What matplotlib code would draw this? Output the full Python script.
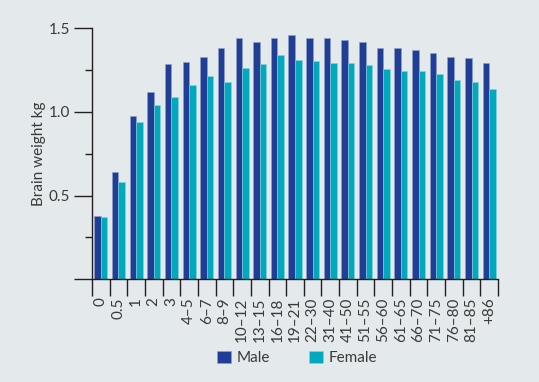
import matplotlib
matplotlib.use("Agg")
import matplotlib.pyplot as plt
import numpy as np
from matplotlib.patches import Patch

categories = ["0", "0.5", "1", "2", "3", "4–5", "6–7", "8–9", "10–12", "13–15",
              "16–18", "19–21", "22–30", "31–40", "41–50", "51–55", "56–60",
              "61–65", "66–70", "71–75", "76–80", "81–85", "+86"]
male = [0.38, 0.64, 0.975, 1.12, 1.285, 1.30, 1.33, 1.38, 1.44, 1.42,
        1.44, 1.46, 1.44, 1.44, 1.43, 1.42, 1.38, 1.38, 1.37, 1.35, 1.33, 1.32, 1.29]
female = [0.37, 0.58, 0.94, 1.04, 1.09, 1.16, 1.215, 1.18, 1.26, 1.285,
          1.34, 1.31, 1.305, 1.29, 1.29, 1.28, 1.255, 1.245, 1.245, 1.225, 1.19, 1.18, 1.14]
y_ticks = [0.5, 1.0, 1.5]
y_tick_labels = ["0.5", "1.0", "1.5"]

bg = "#e4e9ec"
c_male = "#213e97"
c_female = "#00a9bc"
ink = "#231f20"
txt = "#3a3a3a"

plt.rcParams['font.family'] = ['Lato', 'DejaVu Sans']

fig = plt.figure(figsize=(5.39, 3.82), dpi=100, facecolor=bg)
ax = fig.add_axes([92/539, 1-279.3/382, (498-92)/539, (279.3-28.3)/382])
ax.set_facecolor(bg)

x = np.arange(len(categories)) + 0.5
w = 0.37
ax.bar(x - w/2, male, width=w, color=c_male, edgecolor="#8fa0c8", linewidth=0.4)
ax.bar(x + w/2, female, width=w, color=c_female, edgecolor="#8fd3dc", linewidth=0.4)

ax.set_xlim(0, len(categories))
ax.set_ylim(0, 1.5)

for s in ["top", "right"]:
    ax.spines[s].set_visible(False)
for s in ["left", "bottom"]:
    ax.spines[s].set_color(ink)
    ax.spines[s].set_linewidth(1.0)

ax.set_yticks([0] + y_ticks)
ax.set_yticklabels([""] + y_tick_labels)
ax.set_yticks([0.25, 0.75, 1.25], minor=True)
ax.tick_params(axis="y", which="major", length=13, width=1.0, color=ink,
               labelsize=11, labelcolor=txt, pad=3)
ax.tick_params(axis="y", which="minor", length=5, width=1.0, color=ink)

ax.set_xticks(np.arange(len(categories) + 1))
ax.set_xticklabels([""] * (len(categories) + 1))
ax.tick_params(axis="x", which="major", length=12, width=1.0, color=ink)
for xi, lab in zip(x, categories):
    ax.annotate(lab, xy=(xi, 0), xycoords="data", xytext=(0, -13),
                textcoords="offset points", rotation=90, ha="center", va="top",
                fontsize=11, color=txt)

ax.set_ylabel("Brain weight kg", fontsize=11, color=txt, labelpad=2)

handles = [Patch(facecolor=c_male, edgecolor="#8fa0c8", linewidth=0.4),
           Patch(facecolor=c_female, edgecolor="#8fd3dc", linewidth=0.4)]
leg = fig.legend(handles, ["Male", "Female"], loc="center",
                 bbox_to_anchor=(297/539, 1-358/382), ncol=2, frameon=False,
                 fontsize=11, handlelength=0.9, handleheight=0.9,
                 handletextpad=0.35, columnspacing=2.6)
for t in leg.get_texts():
    t.set_color(txt)

fig.savefig("out.png", dpi=100, facecolor=bg)
